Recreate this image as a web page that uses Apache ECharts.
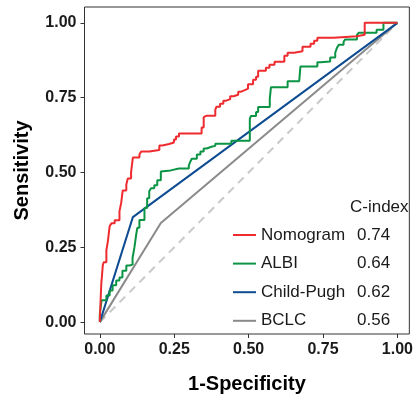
<!DOCTYPE html>
<html>
<head>
<meta charset="utf-8">
<script src="https://cdn.jsdelivr.net/npm/echarts@6/dist/echarts.min.js"></script>
<style>
  html, body { margin: 0; padding: 0; background: #fff; }
  #chart { width: 416px; height: 399px; }
</style>
</head>
<body>
<div id="chart"></div>
<script>
// ROC curves, [1-specificity, sensitivity]
const nomogramRoc = [
  [0, 0], [0.005, 0.01], [0.006, 0.13], [0.01, 0.14], [0.013, 0.19], [0.022, 0.20],
  [0.027, 0.24], [0.033, 0.27], [0.039, 0.32], [0.05, 0.33], [0.066, 0.34], [0.072, 0.37],
  [0.077, 0.40], [0.089, 0.44], [0.094, 0.46], [0.105, 0.48], [0.111, 0.50], [0.133, 0.55],
  [0.139, 0.56], [0.166, 0.57], [0.2, 0.575], [0.21, 0.59], [0.233, 0.595], [0.249, 0.60],
  [0.256, 0.61], [0.266, 0.62], [0.276, 0.63], [0.342, 0.63], [0.349, 0.65], [0.354, 0.685],
  [0.359, 0.69], [0.388, 0.69], [0.392, 0.71], [0.404, 0.72], [0.415, 0.73], [0.425, 0.74],
  [0.438, 0.745], [0.449, 0.755], [0.465, 0.76], [0.475, 0.77], [0.487, 0.775], [0.498, 0.78],
  [0.515, 0.795], [0.525, 0.81], [0.532, 0.82], [0.558, 0.84], [0.57, 0.85], [0.587, 0.86],
  [0.62, 0.87], [0.631, 0.89], [0.653, 0.90], [0.681, 0.905], [0.698, 0.92], [0.708, 0.92],
  [0.72, 0.93], [0.731, 0.94], [0.786, 0.95], [0.864, 0.955], [0.89, 0.96], [0.89, 0.99],
  [0.963, 1.0], [1, 1]
];
const albiRoc = [
  [0, 0], [0, 0.011], [0.006, 0.028], [0.022, 0.073], [0.033, 0.089], [0.043, 0.106],
  [0.055, 0.123], [0.066, 0.139], [0.076, 0.149], [0.089, 0.172], [0.1, 0.189], [0.11, 0.192],
  [0.116, 0.215], [0.122, 0.248], [0.126, 0.291], [0.133, 0.315], [0.139, 0.341], [0.15, 0.341],
  [0.159, 0.381], [0.166, 0.414], [0.172, 0.437], [0.183, 0.447], [0.193, 0.457], [0.205, 0.474],
  [0.21, 0.503], [0.238, 0.507], [0.266, 0.513], [0.299, 0.513], [0.304, 0.523], [0.309, 0.536],
  [0.326, 0.546], [0.338, 0.56], [0.349, 0.57], [0.359, 0.58], [0.375, 0.586], [0.388, 0.589],
  [0.404, 0.596], [0.442, 0.596], [0.471, 0.606], [0.504, 0.606], [0.508, 0.679], [0.515, 0.689],
  [0.525, 0.689], [0.532, 0.702], [0.542, 0.719], [0.571, 0.719], [0.575, 0.745], [0.581, 0.785],
  [0.631, 0.785], [0.637, 0.805], [0.67, 0.805], [0.674, 0.811], [0.681, 0.854], [0.731, 0.854],
  [0.741, 0.868], [0.774, 0.871], [0.791, 0.884], [0.797, 0.9], [0.803, 0.917], [0.819, 0.927],
  [0.824, 0.937], [0.864, 0.944], [0.87, 0.96], [0.93, 0.967], [0.953, 0.977], [0.963, 1.0],
  [1, 1]
];
const childPughRoc = [[0, 0], [0.111, 0.351], [1, 1]];
const bclcRoc = [[0, 0], [0.205, 0.331], [1, 1]];
const refLine = [[0, 0], [1, 1]];

const modelNames = ["Nomogram", "ALBI", "Child-Pugh", "BCLC"];
const cIndex = [0.74, 0.64, 0.62, 0.56];
const tickValues = [0, 0.25, 0.5, 0.75, 1];

const font = "Liberation Sans, Arial, sans-serif";

function axisBase() {
  return {
    type: "value",
    splitLine: { show: false },
    axisLine: { show: false, onZero: false },
    axisTick: { show: true, length: 4, customValues: tickValues, lineStyle: { color: "#333", width: 1 } },
    axisLabel: {
      customValues: tickValues,
      formatter: (v) => v.toFixed(2),
      color: "#1a1a1a",
      fontWeight: "bold",
      fontSize: 16,
      fontFamily: font
    },
    nameLocation: "middle",
    nameTextStyle: { color: "#000", fontWeight: "bold", fontSize: 20, fontFamily: font }
  };
}

function rocSeries(name, data, color, step) {
  return {
    name: name,
    type: "line",
    data: data,
    step: step ? "start" : false,
    showSymbol: false,
    symbol: "none",
    silent: true,
    lineStyle: { color: color, width: 2 },
    itemStyle: { color: color }
  };
}

const chart = echarts.init(document.getElementById("chart"));
chart.setOption({
  animation: false,
  backgroundColor: "#fff",
  grid: { left: 84.5, right: 3, top: 7, bottom: 62, show: true, borderColor: "#333", borderWidth: 1, backgroundColor: "transparent" },
  xAxis: Object.assign(axisBase(), { min: -0.0515, max: 1.04, name: "1-Specificity", nameGap: 40 }),
  yAxis: Object.assign(axisBase(), { min: -0.0397, max: 1.053, name: "Sensitivity", nameGap: 52 }),
  title: {
    text: "C-index",
    left: 350,
    top: 197,
    padding: 0,
    textStyle: { fontSize: 17, fontWeight: "normal", color: "#1a1a1a", fontFamily: font, lineHeight: 20 }
  },
  legend: {
    data: modelNames,
    orient: "vertical",
    left: 233,
    top: 225,
    padding: 0,
    itemGap: 8.6,
    icon: "rect",
    itemWidth: 23,
    itemHeight: 2,
    textStyle: {
      fontSize: 17,
      color: "#1a1a1a",
      fontFamily: font,
      lineHeight: 20,
      rich: {
        n: { width: 96, fontSize: 17, fontFamily: font, color: "#1a1a1a", lineHeight: 20 },
        v: { fontSize: 17, fontFamily: font, color: "#1a1a1a", lineHeight: 20 }
      }
    },
    formatter: (name) => `{n|${name}}{v|${cIndex[modelNames.indexOf(name)].toFixed(2)}}`
  },
  series: [
    {
      name: "ref",
      type: "line",
      data: refLine,
      showSymbol: false,
      symbol: "none",
      silent: true,
      lineStyle: { color: "#c9c9c9", width: 2, type: [8, 6] }
    },
    rocSeries("BCLC", bclcRoc, "#8a8a8a", false),
    rocSeries("Child-Pugh", childPughRoc, "#0e4c92", false),
    rocSeries("ALBI", albiRoc, "#0b9444", true),
    rocSeries("Nomogram", nomogramRoc, "#ee2b2f", true)
  ]
});
</script>
</body>
</html>
